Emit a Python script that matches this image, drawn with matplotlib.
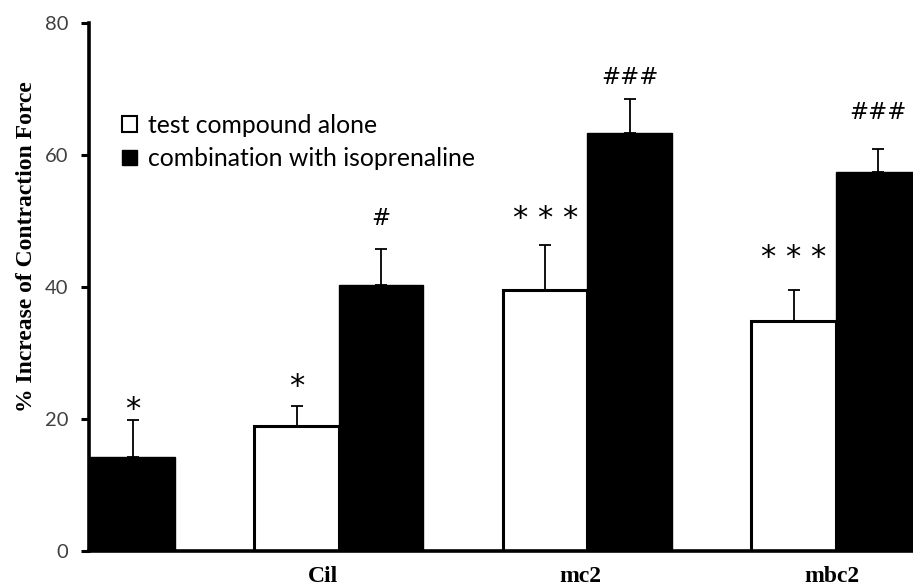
import matplotlib
matplotlib.use("Agg")
import matplotlib.pyplot as plt
import numpy as np
from matplotlib.patches import Patch

# data
groups = ['', 'Cil', 'mc2', 'mbc2']
alone = [0.0, 19.0, 39.6, 34.8]
alone_err = [0.0, 2.9, 6.7, 4.8]
combo = [14.3, 40.3, 63.3, 57.4]
combo_err = [5.5, 5.4, 5.2, 3.5]
alone_marks = ['', '*', '* * *', '* * *']
combo_marks = ['*', '#', '###', '###']

# layout
w = 0.34
x = np.arange(len(groups))
mark_off_alone = [0, 3.0, 4.0, 4.8]
mark_off_combo = [1.6, 4.7, 3.2, 5.5]
label_pos = x + np.array([0, -0.065, -0.03, -0.015])

fig = plt.figure(figsize=(9.13, 5.88), dpi=100)
ax = fig.add_axes([0.0975, 0.063, 0.9025, 0.898])

ax.bar(x[1:] - w / 2, alone[1:], w, color='white', edgecolor='black', linewidth=2.2,
       label='test compound alone', zorder=2)
ax.bar(x + w / 2, combo, w, color='black', edgecolor='black', linewidth=1,
       label='combination with isoprenaline', zorder=2)
ax.errorbar(x[1:] - w / 2, alone[1:], yerr=[np.zeros(3), alone_err[1:]], fmt='none',
            ecolor='black', elinewidth=1.3, capsize=4.5, capthick=1.3, zorder=1)
ax.errorbar(x + w / 2, combo, yerr=[np.zeros(4), combo_err], fmt='none',
            ecolor='black', elinewidth=1.3, capsize=4.5, capthick=1.3, zorder=1)

for i in range(len(groups)):
    if alone_marks[i]:
        ax.text(x[i] - w / 2, alone[i] + alone_err[i] + mark_off_alone[i], alone_marks[i],
                ha='center', va='center', fontsize=22, family='DejaVu Sans')
    ax.text(x[i] + w / 2, combo[i] + combo_err[i] + mark_off_combo[i], combo_marks[i],
            ha='center', va='center', fontsize=22 if combo_marks[i] == '*' else 16.5,
            family='DejaVu Sans')

ax.set_xlim(-0.005, 3.31)
ax.set_ylim(0, 80)
ax.set_yticks([0, 20, 40, 60, 80])
ax.set_xticks(label_pos[1:])
ax.set_xticklabels(groups[1:], family='Liberation Serif', fontweight='bold', fontsize=17)
ax.tick_params(axis='x', length=0, pad=11)
ax.tick_params(axis='y', direction='out', length=6, width=2.2, labelsize=14.5,
               labelcolor='#404040', pad=9)
for lab in ax.get_yticklabels():
    lab.set_family('Lato')
ax.spines['top'].set_visible(False)
ax.spines['right'].set_visible(False)
ax.spines['left'].set_linewidth(2.6)
ax.spines['bottom'].set_linewidth(2.6)

ax.set_ylabel('% Increase of Contraction Force', family='Liberation Serif',
              fontweight='bold', fontsize=17)
ax.yaxis.set_label_coords(-0.063, 0.576)

handles = [Patch(facecolor='white', edgecolor='black', linewidth=1.5),
           Patch(facecolor='black', edgecolor='black')]
ax.legend(handles, ['test compound alone', 'combination with isoprenaline'],
          loc='upper left', bbox_to_anchor=(0.04, 0.828), frameon=False,
          prop={'family': 'Lato', 'size': 17.8}, handlelength=0.6, handleheight=0.6,
          handletextpad=0.45, labelspacing=0.42, borderaxespad=0, borderpad=0)

fig.savefig('out.png', dpi=100)
plt.close(fig)
